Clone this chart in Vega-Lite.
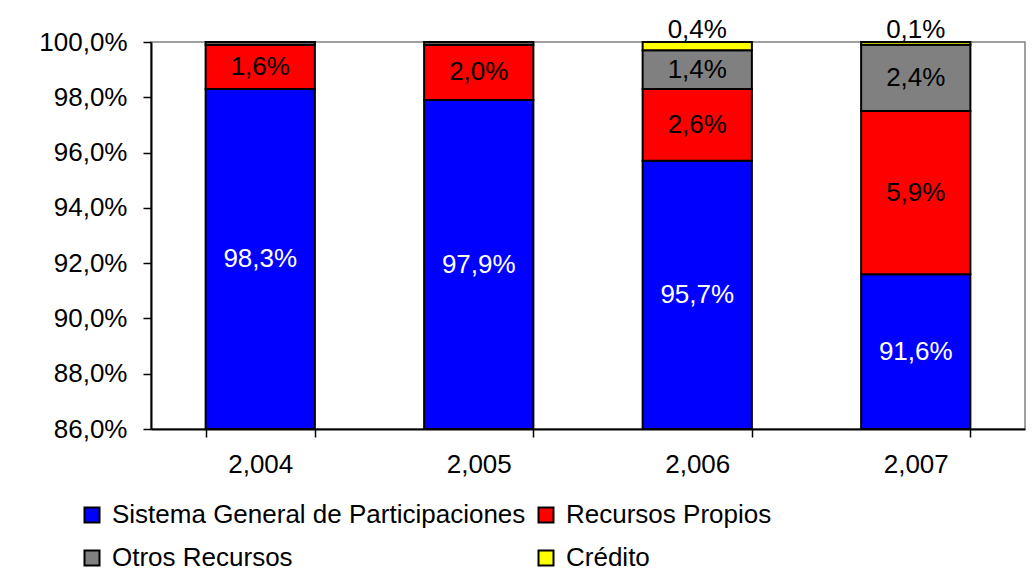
{
  "$schema": "https://vega.github.io/schema/vega-lite/v6.json",
  "width": 874,
  "height": 387,
  "autosize": {"type": "none"},
  "padding": {"left": 151, "top": 42, "right": 10, "bottom": 146},
  "background": "white",
  "config": {
    "font": "Liberation Sans",
    "view": {"stroke": "#808080", "strokeWidth": 1.5}
  },
  "data": {
    "values": [
      {"year": "2,004", "serie": "Sistema General de Participaciones", "order": 1, "v": 98.3},
      {"year": "2,004", "serie": "Recursos Propios", "order": 2, "v": 1.6},
      {"year": "2,004", "serie": "Otros Recursos", "order": 3, "v": 0.1},
      {"year": "2,004", "serie": "Crédito", "order": 4, "v": 0},
      {"year": "2,005", "serie": "Sistema General de Participaciones", "order": 1, "v": 97.9},
      {"year": "2,005", "serie": "Recursos Propios", "order": 2, "v": 2.0},
      {"year": "2,005", "serie": "Otros Recursos", "order": 3, "v": 0.1},
      {"year": "2,005", "serie": "Crédito", "order": 4, "v": 0},
      {"year": "2,006", "serie": "Sistema General de Participaciones", "order": 1, "v": 95.7},
      {"year": "2,006", "serie": "Recursos Propios", "order": 2, "v": 2.6},
      {"year": "2,006", "serie": "Otros Recursos", "order": 3, "v": 1.4},
      {"year": "2,006", "serie": "Crédito", "order": 4, "v": 0.4},
      {"year": "2,007", "serie": "Sistema General de Participaciones", "order": 1, "v": 91.6},
      {"year": "2,007", "serie": "Recursos Propios", "order": 2, "v": 5.9},
      {"year": "2,007", "serie": "Otros Recursos", "order": 3, "v": 2.4},
      {"year": "2,007", "serie": "Crédito", "order": 4, "v": 0.1}
    ]
  },
  "transform": [
    {"stack": "v", "groupby": ["year"], "sort": [{"field": "order", "order": "ascending"}], "as": ["y0", "y1"]},
    {"calculate": "(max(datum.y0, 86) + min(datum.y1, 100)) / 2", "as": "mid"},
    {"calculate": "replace(format(datum.v, '.1f'), '.', ',') + '%'", "as": "lbl"}
  ],
  "encoding": {
    "x": {
      "field": "year",
      "type": "nominal",
      "sort": null,
      "scale": {"paddingInner": 0.5, "paddingOuter": 0.25},
      "axis": {
        "title": null,
        "labelAngle": 0,
        "labelFontSize": 26,
        "labelFont": "Liberation Sans",
        "labelColor": "black",
        "tickBand": "extent",
        "tickSize": 8,
        "tickColor": "black",
        "tickWidth": 1.5,
        "domainColor": "black",
        "domainWidth": 2,
        "labelPadding": 14
      }
    }
  },
  "layer": [
    {
      "mark": {"type": "bar", "stroke": "black", "strokeWidth": 2},
      "encoding": {
        "y": {
          "field": "y1",
          "type": "quantitative",
          "scale": {"domain": [86, 100], "clamp": true, "nice": false, "zero": false},
          "axis": {
            "title": null,
            "values": [86, 88, 90, 92, 94, 96, 98, 100],
            "labelExpr": "replace(format(datum.value, '.1f'), '.', ',') + '%'",
            "labelFontSize": 26,
            "labelFont": "Liberation Sans",
            "labelColor": "black",
            "grid": false,
            "domainColor": "black",
            "domainWidth": 2,
            "tickColor": "black",
            "tickWidth": 1.5,
            "tickSize": 8,
            "labelPadding": 16
          }
        },
        "y2": {"field": "y0"},
        "color": {
          "field": "serie",
          "type": "nominal",
          "scale": {
            "domain": ["Sistema General de Participaciones", "Recursos Propios", "Otros Recursos", "Crédito"],
            "range": ["#0000FF", "#FF0000", "#808080", "#FFFF00"]
          },
          "legend": {
            "orient": "none",
            "direction": "horizontal",
            "legendX": -72,
            "legendY": 460,
            "columns": 2,
            "title": null,
            "symbolType": "square",
            "symbolSize": 225,
            "symbolStrokeColor": "black",
            "symbolStrokeWidth": 2,
            "symbolOpacity": 1,
            "labelFontSize": 26,
            "labelFont": "Liberation Sans",
            "labelColor": "black",
            "labelOffset": 7,
            "columnPadding": 7,
            "rowPadding": 17,
            "labelLimit": 600
          }
        },
        "order": {"field": "order"}
      }
    },
    {
      "transform": [{"filter": "datum.serie != 'Crédito' && datum.v >= 0.3"}],
      "mark": {"type": "text", "fontSize": 26, "font": "Liberation Sans", "baseline": "middle"},
      "encoding": {
        "y": {"field": "mid", "type": "quantitative"},
        "text": {"field": "lbl"},
        "color": {
          "condition": {"test": "datum.serie == 'Sistema General de Participaciones'", "value": "white"},
          "value": "black"
        }
      }
    },
    {
      "transform": [{"filter": "datum.serie == 'Crédito' && datum.v > 0"}],
      "mark": {"type": "text", "fontSize": 26, "font": "Liberation Sans", "baseline": "alphabetic", "dy": -4, "color": "black"},
      "encoding": {
        "y": {"datum": 100, "type": "quantitative"},
        "text": {"field": "lbl"}
      }
    }
  ]
}
